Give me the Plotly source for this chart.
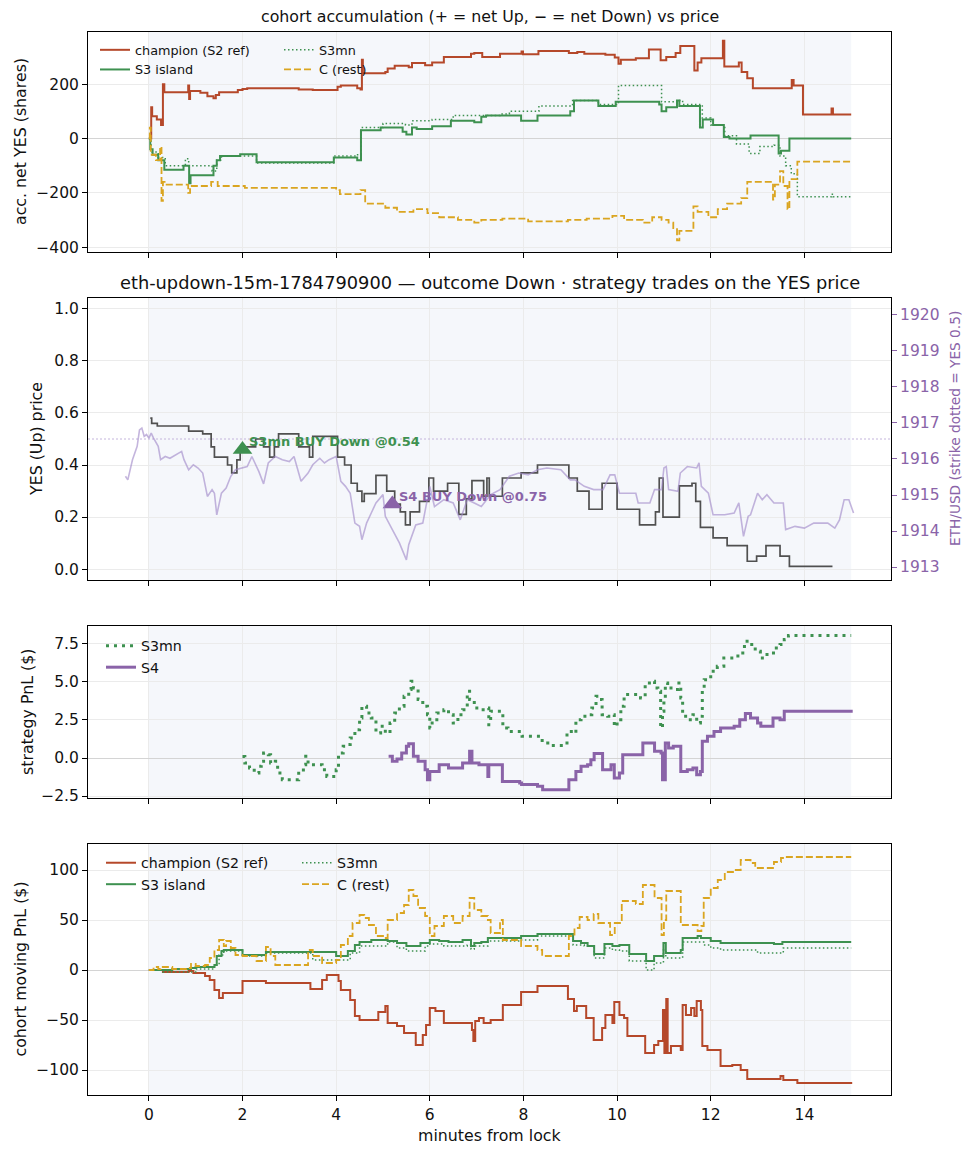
import plotly.graph_objects as go

# colours
CHAMP = "#b5482a"
GREEN = "#3e9150"
GOLD = "#daa520"
PURPLE = "#8a63a8"
ETH_COL = "rgba(160,135,200,0.62)"
YES_COL = "#505050"
SHADE = "#f5f7fb"

# ---- panel 1: cohort accumulation (net YES shares) ----
acc_champ_x = [0, 0.05, 0.07, 0.17, 0.26, 0.3, 0.33, 0.84, 0.86, 0.88, 1.1, 1.25, 1.38, 1.43, 1.5, 1.9, 2.0, 2.1,
               3.2, 3.5, 4.03, 4.1, 4.45, 4.52, 4.55, 4.57, 5.05, 5.1, 5.25, 5.55, 5.62, 5.9, 6.05, 6.3, 6.88, 6.95,
               7.12, 7.5, 7.96, 7.99, 8.32, 8.97, 9.15, 9.3, 9.75, 9.95, 10.03, 10.08, 10.4, 10.68, 10.93, 11.05,
               11.25, 11.35, 11.65, 11.72, 11.8, 12.26, 12.29, 12.6, 12.66, 12.78, 12.9, 13.73, 13.77, 13.97, 14.58,
               14.61, 15.0]
acc_champ_y = [0, 115, 82, 70, 50, 200, 170, 195, 145, 175, 168, 155, 148, 160, 170, 178, 182, 185,
               180, 178, 190, 195, 185, 180, 290, 240, 245, 258, 268, 262, 278, 270, 280, 300, 312, 315,
               300, 312, 320, 310, 322, 315, 318, 312, 308, 298, 275, 290, 295, 328, 288, 300,
               315, 340, 250, 280, 295, 360, 265, 280, 245, 222, 185, 215, 195, 88, 110,
               88, 88]

acc_s3_x = [0, 0.03, 0.08, 0.2, 0.33, 0.74, 0.86, 0.89, 1.38, 1.45, 1.52, 1.95, 2.3, 3.95, 4.45, 4.53, 4.95, 5.42,
            5.5, 5.62, 5.72, 6.05, 6.45, 6.95, 7.1, 7.2, 7.95, 8.3, 9.0, 9.08, 9.6, 9.97, 10.9, 10.95, 11.05, 11.28,
            11.33, 11.77, 11.83, 12.05, 12.28, 12.4, 12.85, 13.45, 13.5, 13.68, 15.0]
acc_s3_y = [0, -40, -60, -80, -115, -100, -165, -135, -100, -80, -65, -58, -88, -70, -80, 30, 40, 25,
            15, 40, 35, 45, 65, 60, 80, 85, 65, 85, 100, 140, 120, 135, 125, 100, 115, 140,
            120, 40, 70, 50, 5, 0, 11, -55, -45, 0, 0]

acc_s3mn_x = [0, 0.05, 0.2, 0.35, 0.78, 0.85, 1.35, 1.45, 1.55, 2.3, 3.95, 4.4, 4.53, 5.0, 5.48, 5.62, 6.05, 6.5,
              7.5, 7.7, 8.33, 9.05, 9.6, 10.03, 10.95, 11.28, 11.4, 11.82, 12.0, 12.3, 12.55, 12.82, 13.05, 13.35,
              13.48, 13.6, 13.72, 13.85, 14.58, 14.62, 15.0]
acc_s3mn_y = [0, -50, -70, -100, -75, -100, -120, -80, -65, -90, -65, -60, 40, 55, 50, 65, 70, 85,
              90, 100, 120, 140, 125, 195, 135, 140, 125, 75, 50, 10, -20, -55, -30, -25,
              -65, -100, -130, -215, -205, -215, -215]

acc_c_x = [0, 0.02, 0.04, 0.15, 0.24, 0.27, 0.3, 0.38, 0.84, 0.88, 1.33, 1.47, 2.05, 4.0, 4.08, 4.52, 4.62, 5.05,
           5.3, 5.65, 5.95, 6.2, 6.6, 6.95, 7.1, 7.55, 8.1, 8.95, 9.35, 9.9, 10.15, 10.55, 10.75, 10.95, 11.1,
           11.2, 11.28, 11.33, 11.63, 11.72, 11.95, 12.15, 12.35, 12.65, 12.78, 13.33, 13.37, 13.48, 13.55,
           13.64, 13.68, 13.85, 15.0]
acc_c_y = [0, 40, -60, -80, -30, -230, -160, -170, -200, -175, -160, -175, -182, -190, -205, -190, -240, -255,
           -270, -260, -275, -290, -300, -310, -300, -295, -305, -300, -295, -285, -300, -310, -290, -300, -310,
           -330, -375, -340, -250, -270, -290, -260, -240, -220, -160, -225, -170, -120, -175,
           -260, -150, -85, -85]

# ---- panel 2: YES price and ETH/USD ----
yes_x = [0.03, 0.06, 0.18, 0.85, 1.15, 1.33, 1.4, 1.68, 1.77, 1.88, 1.95, 2.28, 2.45, 2.58, 2.68, 2.77, 3.2, 3.43,
         3.5, 4.03, 4.18, 4.32, 4.45, 4.55, 4.6, 4.85, 5.08, 5.25, 5.37, 5.48, 5.58, 5.78, 5.98, 6.08, 6.38, 6.62,
         6.78, 6.9, 7.15, 7.22, 7.27, 7.55, 7.95, 8.3, 8.97, 9.15, 9.4, 9.68, 10.0, 10.48, 10.82, 10.9, 10.98,
         11.33, 11.6, 11.68, 11.78, 12.05, 12.35, 12.78, 12.98, 13.18, 13.48, 13.68, 14.6]
yes_y = [0.58, 0.56, 0.55, 0.53, 0.52, 0.47, 0.43, 0.40, 0.37, 0.42, 0.47, 0.50, 0.47, 0.43, 0.47, 0.52, 0.47, 0.43,
         0.51, 0.43, 0.40, 0.33, 0.30, 0.26, 0.29, 0.36, 0.30, 0.25, 0.22, 0.17, 0.22, 0.26, 0.35, 0.30, 0.33, 0.21,
         0.27, 0.34, 0.28, 0.35, 0.28, 0.35, 0.37, 0.40, 0.35, 0.30, 0.23, 0.33, 0.23, 0.17, 0.22, 0.35, 0.20,
         0.32, 0.33, 0.26, 0.16, 0.12, 0.09, 0.03, 0.05, 0.09, 0.05, 0.01, 0.01]

eth_x = [-0.5, -0.45, -0.35, -0.25, -0.2, -0.15, -0.1, -0.05, 0.0, 0.05, 0.1, 0.2, 0.25, 0.35, 0.45, 0.6, 0.7, 0.75,
         0.85, 0.95, 1.05, 1.15, 1.25, 1.35, 1.4, 1.45, 1.55, 1.65, 1.75, 1.85, 2.0, 2.1, 2.2, 2.35, 2.45, 2.55,
         2.7, 2.85, 3.0, 3.1, 3.25, 3.4, 3.5, 3.65, 3.75, 3.85, 4.0, 4.1, 4.2, 4.3, 4.4, 4.5, 4.55, 4.65, 4.75,
         4.85, 5.0, 5.05, 5.2, 5.35, 5.5, 5.55, 5.7, 5.85, 6.0, 6.1, 6.3, 6.5, 6.65, 6.8, 6.95, 7.1, 7.3, 7.5,
         7.7, 7.9, 8.1, 8.3, 8.5, 8.8, 9.0, 9.1, 9.3, 9.5, 9.7, 9.85, 9.95, 10.05, 10.4, 10.45, 10.7, 10.8,
         10.95, 11.0, 11.05, 11.1, 11.3, 11.35, 11.5, 11.7, 11.75, 11.8, 11.95, 12.05, 12.3, 12.5, 12.6, 12.7,
         12.8, 12.85, 13.0, 13.1, 13.2, 13.35, 13.55, 13.6, 13.8, 14.0, 14.2, 14.5, 14.65, 14.75, 14.85, 14.95,
         15.05]
eth_y = [1915.52, 1915.42, 1915.98, 1916.35, 1916.81, 1916.86, 1916.63, 1916.68, 1916.58, 1916.72, 1916.58,
         1916.35, 1915.98, 1916.07, 1916.02, 1916.12, 1916.21, 1915.98, 1915.70, 1915.84, 1915.75, 1915.61,
         1914.96, 1915.15, 1915.05, 1914.45, 1915.05, 1915.19, 1915.52, 1915.70, 1915.75, 1915.79, 1916.07,
         1915.65, 1915.31, 1915.89, 1916.07, 1915.98, 1915.93, 1916.07, 1915.38, 1915.61, 1915.84, 1916.02,
         1915.89, 1915.98, 1916.07, 1915.38, 1915.24, 1915.05, 1914.22, 1914.13, 1913.76, 1914.22, 1914.50,
         1914.78, 1915.01, 1914.41, 1914.04, 1913.67, 1913.20, 1913.62, 1914.17, 1914.22, 1915.24, 1914.68,
         1914.87, 1914.78, 1914.31, 1914.87, 1914.78, 1914.68, 1915.01, 1915.15, 1915.52, 1915.61, 1915.56,
         1915.70, 1915.75, 1915.70, 1915.42, 1915.42, 1915.24, 1915.15, 1915.15, 1915.56, 1915.56, 1915.05,
         1915.05, 1914.78, 1914.78, 1915.15, 1915.15, 1915.75, 1915.79, 1915.15, 1915.10, 1915.61, 1915.79,
         1915.75, 1915.89, 1915.24, 1915.05, 1914.45, 1914.45, 1914.50, 1914.78, 1913.85, 1914.41, 1914.45,
         1915.05, 1914.87, 1915.01, 1914.78, 1914.78, 1914.04, 1914.13, 1914.08, 1914.22, 1914.22, 1914.08,
         1914.31, 1914.87, 1914.87, 1914.50]

trade_x = [2.0, 5.2]
trade_y = [0.46, 0.25]
trade_labels = ["S3mn BUY Down @0.54", "S4 BUY Down @0.75"]
strike_yes = 0.5

# ---- panel 3: strategy PnL ($) ----
pnl_s3mn_x = [2.0, 2.05, 2.15, 2.25, 2.35, 2.4, 2.45, 2.55, 2.6, 2.7, 2.75, 2.85, 3.2, 3.3, 3.35, 3.4, 3.7, 3.8,
              4.0, 4.05, 4.15, 4.25, 4.3, 4.4, 4.5, 4.55, 4.65, 4.75, 4.85, 4.95, 5.05, 5.15, 5.25, 5.35, 5.45,
              5.55, 5.6, 5.65, 5.75, 5.85, 5.95, 6.0, 6.05, 6.15, 6.3, 6.4, 6.5, 6.6, 6.7, 6.8, 6.85, 6.95, 7.05,
              7.24, 7.26, 7.3, 7.56, 7.67, 7.97, 8.4, 8.52, 8.93, 9.08, 9.12, 9.23, 9.35, 9.46, 9.55, 9.63, 9.68,
              9.8, 9.9, 9.94, 10.0, 10.08, 10.15, 10.5, 10.6, 10.69, 10.8, 10.87, 10.93, 10.97, 11.0, 11.03, 11.08,
              11.2, 11.32, 11.36, 11.4, 11.5, 11.62, 11.7, 11.78, 11.82, 11.86, 12.0, 12.14, 12.28, 12.58, 12.72,
              12.84, 12.95, 13.06, 13.15, 13.34, 13.48, 13.57, 13.66, 15.0]
pnl_s3mn_y = [0.1, -0.33, -0.66, -0.99, -0.55, -0.22, 0.33, 0.22, -0.33, -0.22, -0.99, -1.43, -0.88, -0.44, 0.11,
              -0.44, -0.77, -1.21, -0.77, 0.33, 0.77, 0.88, 1.32, 1.86, 2.63, 3.4, 2.96, 2.63, 1.64, 2.08, 1.64,
              2.3, 2.96, 3.4, 4.06, 4.5, 5.04, 4.6, 3.84, 3.4, 2.85, 1.97, 2.3, 2.96, 3.18, 2.85, 2.3, 2.85, 3.18,
              4.39, 3.84, 3.29, 3.18, 3.29, 2.19, 3.07, 1.97, 1.75, 1.43, 0.99, 0.83, 1.75, 1.64, 2.52, 2.74,
              2.85, 3.29, 4.06, 3.84, 2.85, 2.74, 2.85, 2.08, 2.52, 3.4, 4.17, 3.95, 4.82, 5.04, 4.6, 4.39, 1.97,
              3.07, 3.84, 4.93, 4.6, 4.5, 4.93, 3.95, 2.74, 2.52, 2.85, 2.3, 2.74, 4.5, 5.15, 5.7, 6.03, 6.58,
              6.91, 7.68, 7.46, 7.02, 6.58, 6.8, 7.24, 7.46, 7.79, 8.05, 8.05]

pnl_s4_x = [5.12, 5.2, 5.3, 5.4, 5.5, 5.55, 5.65, 5.75, 5.9, 5.95, 6.0, 6.2, 6.4, 6.7, 6.85, 6.9, 7.05, 7.24, 7.26,
            7.55, 7.92, 7.96, 8.3, 8.41, 8.97, 9.12, 9.23, 9.37, 9.44, 9.51, 9.69, 9.87, 9.94, 10.05, 10.12, 10.55,
            10.8, 10.94, 10.97, 11.03, 11.1, 11.2, 11.36, 11.5, 11.62, 11.7, 11.78, 11.82, 11.93, 12.07, 12.21,
            12.5, 12.62, 12.74, 12.85, 13.0, 13.07, 13.33, 13.48, 13.57, 14.98, 15.0]
pnl_s4_y = [0.11, -0.22, -0.07, 0.33, 0.77, 0.94, 0.11, -0.22, -0.77, -1.43, -0.88, -0.44, -0.66, -0.33, 0.44,
            -0.33, -0.44, -1.21, -0.44, -1.54, -1.64, -1.75, -1.86, -2.08, -1.43, -0.88, -0.55, -0.44, -0.11, 0.29,
            -0.77, -0.44, -1.32, -0.99, 0.22, 0.99, 0.44, 0.33, -1.43, 0.99, 0.66, 0.77, -0.88, -0.77, -0.66,
            -1.1, -0.88, 1.1, 1.43, 1.75, 1.97, 2.08, 2.52, 2.92, 2.63, 2.3, 2.08, 2.63, 2.52, 3.07, 3.07, 3.18]

# ---- panel 4: cohort moving PnL ($) ----
mpnl_champ_x = [0, 0.3, 0.85, 0.95, 1.2, 1.3, 1.4, 1.5, 1.58, 2.0, 2.5, 3.45, 3.7, 3.8, 4.05, 4.1, 4.3, 4.4, 4.5,
                4.9, 5.05, 5.1, 5.3, 5.45, 5.7, 5.85, 5.92, 6.0, 6.12, 6.3, 6.9, 6.93, 6.97, 7.05, 7.15, 7.3, 7.56,
                7.95, 8.3, 8.95, 9.08, 9.14, 9.34, 9.5, 9.68, 9.75, 9.9, 9.94, 10.05, 10.15, 10.22, 10.6, 10.79,
                10.88, 10.98, 11.01, 11.05, 11.08, 11.15, 11.36, 11.4, 11.47, 11.58, 11.65, 11.7, 11.79, 11.82,
                11.93, 12.21, 12.46, 12.64, 12.78, 13.49, 13.55, 13.85, 15.0]
mpnl_champ_y = [0, -2, -1, -3, -6, -10, -20, -28, -23, -11, -13, -19, -10, -5, -11, -20, -30, -46, -50,
                -42, -36, -53, -56, -63, -75, -65, -55, -38, -41, -53, -60, -71, -51, -48, -53, -50, -35,
                -22, -16, -29, -41, -36, -48, -70, -58, -45, -53, -32, -45, -48, -66, -83, -75,
                -71, -40, -83, -29, -83, -76, -80, -35, -45, -38, -46, -31, -40, -76,
                -80, -96, -95, -100, -109, -106, -110, -113, -114]

mpnl_s3_x = [0, 0.5, 0.9, 1.0, 1.4, 1.45, 1.55, 1.6, 2.0, 2.5, 4.0, 4.25, 4.4, 4.5, 4.75, 5.1, 5.3, 5.5, 5.8, 6.0,
             6.2, 6.4, 6.7, 6.88, 6.95, 7.1, 7.24, 7.95, 8.3, 9.06, 9.23, 9.37, 9.51, 9.73, 9.9, 10.05, 10.26,
             10.62, 10.79, 10.99, 11.04, 11.36, 11.4, 11.72, 11.79, 12.0, 12.21, 13.35, 13.53, 15.0]
mpnl_s3_y = [0, 1, 2, 3, 5, 14, 19, 20, 15, 18, 14, 19, 25, 28, 30, 29, 27, 24, 27, 30,
             29, 28, 30, 24, 27, 28, 32, 34, 36, 29, 27, 24, 16, 26, 24, 25, 16,
             9, 14, 27, 17, 20, 32, 34, 32, 29, 27, 26, 28, 28]

mpnl_s3mn_x = [0, 0.3, 1.0, 1.4, 1.5, 1.6, 2.0, 2.5, 3.5, 4.3, 4.5, 5.1, 5.3, 5.5, 5.9, 6.0, 6.3, 6.8, 6.88, 6.95,
               7.24, 7.95, 8.3, 9.06, 9.3, 9.51, 9.73, 9.9, 10.05, 10.26, 10.62, 10.79, 10.99, 11.04, 11.4, 11.85,
               12.0, 12.21, 13.0, 13.55, 15.0]
mpnl_s3mn_y = [0, -2, 1, 5, 15, 19, 14, 17, 10, 17, 24, 28, 22, 19, 24, 26, 24, 25, 21, 24,
               29, 30, 34, 25, 24, 12, 22, 20, 19, 9, 0, 7, 20, 12, 28, 25,
               22, 20, 17, 22, 22]

mpnl_c_x = [0, 0.1, 0.2, 0.25, 0.5, 0.8, 0.9, 1.0, 1.2, 1.3, 1.4, 1.5, 1.6, 1.65, 1.75, 1.85, 2.0, 2.3, 2.5, 2.6,
            2.7, 3.4, 3.5, 3.7, 4.0, 4.1, 4.25, 4.35, 4.5, 4.6, 4.7, 4.85, 5.0, 5.1, 5.3, 5.45, 5.55, 5.65, 5.75,
            5.9, 6.0, 6.1, 6.3, 6.5, 6.7, 6.85, 6.95, 7.1, 7.24, 7.3, 7.5, 7.56, 7.95, 8.3, 8.4, 8.97, 9.09, 9.2,
            9.37, 9.5, 9.6, 9.85, 9.95, 10.1, 10.4, 10.55, 10.8, 10.95, 11.0, 11.05, 11.36, 11.65, 11.72, 11.8,
            11.85, 12.0, 12.15, 12.3, 12.5, 12.64, 12.85, 12.95, 13.35, 13.5, 13.6, 15.0]
mpnl_c_y = [0, 3, 1, 3, 1, 2, 6, 4, 5, 12, 20, 30, 24, 29, 22, 15, 14, 9, 23, 14,
            5, 20, 14, 7, 10, 25, 34, 47, 55, 52, 45, 34, 32, 50, 57, 65, 80, 74, 62,
            54, 34, 44, 54, 47, 54, 72, 60, 54, 50, 37, 50, 30, 24, 20, 14, 34, 42, 53,
            50, 56, 47, 35, 47, 69, 66, 85, 72, 35, 50, 79, 45, 45, 39, 44,
            72, 82, 90, 98, 100, 110, 107, 102, 108, 112, 113, 113]

# tick values
x_ticks = [0, 2, 4, 6, 8, 10, 12, 14]
acc_ticks = [-400, -200, 0, 200]
yes_ticks = [0.0, 0.2, 0.4, 0.6, 0.8, 1.0]
eth_ticks = [1913, 1914, 1915, 1916, 1917, 1918, 1919, 1920]
spnl_ticks = [-2.5, 0.0, 2.5, 5.0, 7.5]
mpnl_ticks = [-100, -50, 0, 50, 100]


def minus(v, fmt):
    return (fmt % v).replace("-", "\u2212")


fig = go.Figure()

# panel 1 (two legend columns)
fig.add_trace(go.Scatter(x=acc_champ_x, y=acc_champ_y, mode="lines", line_shape="hv", name="champion (S2 ref)",
                         line=dict(color=CHAMP, width=2), xaxis="x", yaxis="y", legend="legend"))
fig.add_trace(go.Scatter(x=acc_s3_x, y=acc_s3_y, mode="lines", line_shape="hv", name="S3 island",
                         line=dict(color=GREEN, width=2), xaxis="x", yaxis="y", legend="legend"))
fig.add_trace(go.Scatter(x=acc_s3mn_x, y=acc_s3mn_y, mode="lines", line_shape="hv", name="S3mn",
                         line=dict(color=GREEN, width=1.5, dash="1.5px,2.5px"), xaxis="x", yaxis="y",
                         legend="legend2"))
fig.add_trace(go.Scatter(x=acc_c_x, y=acc_c_y, mode="lines", line_shape="hv", name="C (rest)",
                         line=dict(color=GOLD, width=1.8, dash="7px,3px"), xaxis="x", yaxis="y", legend="legend2"))

# panel 2: ETH on the right axis, YES price on the left
fig.add_trace(go.Scatter(x=eth_x, y=eth_y, mode="lines", line=dict(color=ETH_COL, width=1.6),
                         xaxis="x2", yaxis="y5", showlegend=False))
fig.add_trace(go.Scatter(x=yes_x, y=yes_y, mode="lines", line_shape="hv", line=dict(color=YES_COL, width=1.7),
                         xaxis="x2", yaxis="y2", showlegend=False))
fig.add_trace(go.Scatter(x=trade_x, y=trade_y, mode="markers",
                         marker=dict(symbol="triangle-up", size=17, color=[GREEN, PURPLE]),
                         xaxis="x2", yaxis="y2", showlegend=False))

# panel 3
fig.add_trace(go.Scatter(x=pnl_s3mn_x, y=pnl_s3mn_y, mode="lines", line_shape="hv", name="S3mn",
                         line=dict(color=GREEN, width=3, dash="3px,5px"), xaxis="x3", yaxis="y3", legend="legend3"))
fig.add_trace(go.Scatter(x=pnl_s4_x, y=pnl_s4_y, mode="lines", line_shape="hv", name="S4",
                         line=dict(color=PURPLE, width=3), xaxis="x3", yaxis="y3", legend="legend3"))

# panel 4
fig.add_trace(go.Scatter(x=mpnl_champ_x, y=mpnl_champ_y, mode="lines", line_shape="hv", name="champion (S2 ref)",
                         line=dict(color=CHAMP, width=2), xaxis="x4", yaxis="y4", legend="legend4"))
fig.add_trace(go.Scatter(x=mpnl_s3_x, y=mpnl_s3_y, mode="lines", line_shape="hv", name="S3 island",
                         line=dict(color=GREEN, width=2), xaxis="x4", yaxis="y4", legend="legend4"))
fig.add_trace(go.Scatter(x=mpnl_s3mn_x, y=mpnl_s3mn_y, mode="lines", line_shape="hv", name="S3mn",
                         line=dict(color=GREEN, width=1.5, dash="1.5px,2.5px"), xaxis="x4", yaxis="y4",
                         legend="legend5"))
fig.add_trace(go.Scatter(x=mpnl_c_x, y=mpnl_c_y, mode="lines", line_shape="hv", name="C (rest)",
                         line=dict(color=GOLD, width=1.8, dash="7px,3px"), xaxis="x4", yaxis="y4",
                         legend="legend5"))

# geometry: the page body adds an 8px margin, so the figure is 8px smaller
# and page pixels map to paper as below
W, H = 965, 1148
L, R, T, B = 80, 82, 24, 61
PW = W - L - R
PH = H - T - B


def py(p):
    return (H - B - (p - 8)) / PH


def px(p):
    return (p - 8 - L) / PW


TICK_FONT = dict(size=15.5, color="#111111")
axis_style = dict(showline=True, mirror=True, linecolor="black", linewidth=1, ticks="outside", ticklen=5,
                  tickcolor="black", gridcolor="#ebebeb", gridwidth=0.8, zeroline=False, tickfont=TICK_FONT)
x_range = [-1.3, 15.85]

layout = dict(
    width=W, height=H, margin=dict(l=L, r=R, t=T, b=B),
    plot_bgcolor="white", paper_bgcolor="white",
    font=dict(family="DejaVu Sans", size=15.5, color="#111111"),
)
for i, (d0, d1) in enumerate([(32, 252), (298, 580), (626, 798), (844, 1095)], start=1):
    sfx = "" if i == 1 else str(i)
    layout["xaxis" + sfx] = dict(axis_style, domain=[0, 1], range=x_range, anchor="y" + sfx,
                                 tickvals=x_ticks, showticklabels=(i == 4),
                                 **({} if i == 1 else {"matches": "x"}))
    layout["yaxis" + sfx] = dict(axis_style, domain=[py(d1), py(d0)], anchor="x" + sfx)

zero_style = dict(zeroline=True, zerolinecolor="#d4d4d4", zerolinewidth=1)
layout["yaxis"].update(range=[-418, 392], tickvals=acc_ticks, ticktext=[minus(v, "%d") for v in acc_ticks],
                       **zero_style)
layout["yaxis2"].update(range=[-0.042, 1.042], tickvals=yes_ticks, ticktext=["%.1f" % v for v in yes_ticks])
layout["yaxis3"].update(range=[-2.63, 8.68], tickvals=spnl_ticks, ticktext=[minus(v, "%.1f") for v in spnl_ticks],
                        **zero_style)
layout["yaxis4"].update(range=[-125, 126], tickvals=mpnl_ticks, ticktext=[minus(v, "%d") for v in mpnl_ticks],
                        **zero_style)
layout["yaxis5"] = dict(overlaying="y2", side="right", anchor="x2", range=[1912.64, 1920.47],
                        tickvals=eth_ticks, showgrid=False, zeroline=False, showline=True, linecolor="black",
                        ticks="outside", ticklen=5, tickcolor=PURPLE,
                        tickfont=dict(size=15.5, color=PURPLE))

legend_base = dict(bgcolor="rgba(0,0,0,0)", borderwidth=0, xanchor="left", yanchor="top",
                   tracegroupgap=0, itemclick=False)
layout["legend"] = dict(legend_base, x=px(95), y=py(35), font=dict(size=12.8))
layout["legend2"] = dict(legend_base, x=px(279), y=py(35), font=dict(size=12.8))
layout["legend3"] = dict(legend_base, x=px(101), y=py(630), font=dict(size=14.2))
layout["legend4"] = dict(legend_base, x=px(101), y=py(847), font=dict(size=14.2))
layout["legend5"] = dict(legend_base, x=px(297), y=py(847), font=dict(size=14.2))
fig.update_layout(**layout)

# shaded window 0..15 and strike line
shapes = []
for ax in ["", "2", "3", "4"]:
    shapes.append(dict(type="rect", xref="x" + ax, yref="y%s domain" % ax, x0=0, x1=15, y0=0, y1=1,
                       fillcolor=SHADE, line=dict(width=0), layer="below"))
shapes.append(dict(type="line", xref="x2", yref="y2", x0=x_range[0], x1=x_range[1], y0=strike_yes, y1=strike_yes,
                   line=dict(color="#c4b5dc", width=1, dash="2px,2px"), layer="between"))
fig.update_layout(shapes=shapes)

# trade labels
for tx, ty, lab, col in zip(trade_x, trade_y, trade_labels, [GREEN, PURPLE]):
    fig.add_annotation(x=tx + 0.1, y=ty + 0.03, xref="x2", yref="y2", text="<b>%s</b>" % lab, showarrow=False,
                       xanchor="left", yanchor="middle", font=dict(size=13, color=col))

# titles
fig.add_annotation(x=0.5, y=py(17), xref="paper", yref="paper", showarrow=False, yanchor="middle",
                   text="cohort accumulation (+ = net Up, \u2212 = net Down) vs price", font=dict(size=15.8))
fig.add_annotation(x=0.5, y=py(282), xref="paper", yref="paper", showarrow=False, yanchor="middle",
                   text="eth-updown-15m-1784790900 \u2014 outcome Down \u00b7 strategy trades on the YES price",
                   font=dict(size=17.8))

# axis labels
for lab, xpix, d0, d1 in [("acc. net YES (shares)", 20, 32, 252), ("YES (Up) price", 37, 298, 580),
                          ("strategy PnL ($)", 27, 626, 798), ("cohort moving PnL ($)", 20, 844, 1095)]:
    fig.add_annotation(x=px(xpix), y=py((d0 + d1) / 2), xref="paper", yref="paper", showarrow=False,
                       textangle=-90, xanchor="center", yanchor="middle", text=lab, font=dict(size=15.8))
fig.add_annotation(x=px(955), y=py(429), xref="paper", yref="paper", showarrow=False, textangle=-90,
                   xanchor="center", yanchor="middle", text="ETH/USD (strike dotted = YES 0.5)",
                   font=dict(size=13.7, color=PURPLE))
fig.add_annotation(x=px(489), y=py(1135), xref="paper", yref="paper", showarrow=False, yanchor="middle",
                   text="minutes from lock", font=dict(size=15.8))

fig.write_html("out.html")
